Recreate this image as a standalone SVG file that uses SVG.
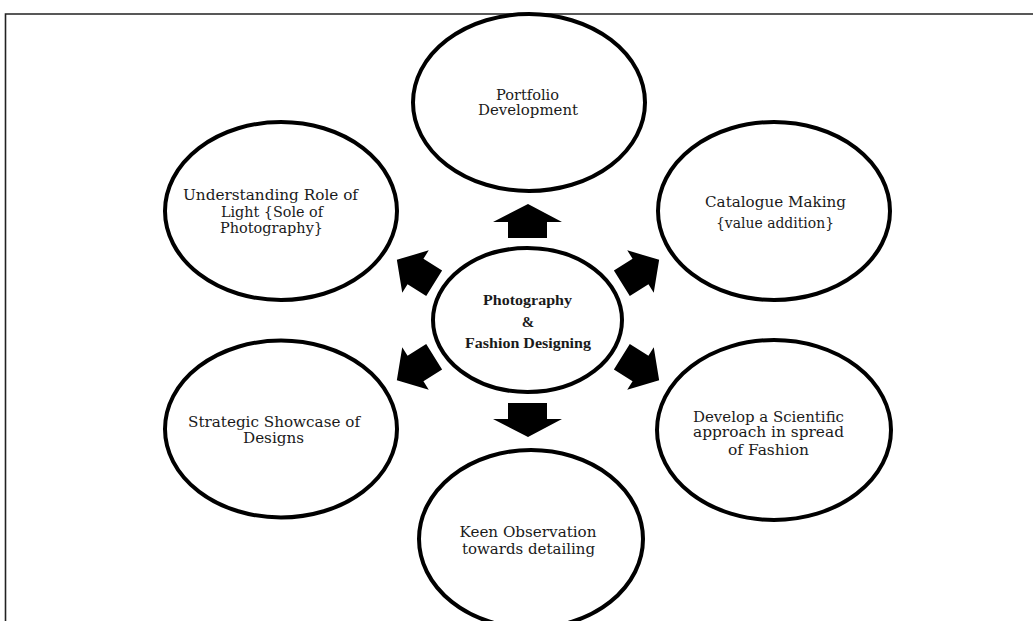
<svg xmlns="http://www.w3.org/2000/svg" width="1033" height="621" viewBox="0 0 1033 621">
<style>
.node ellipse{fill:#fff;stroke:#000;stroke-width:4}
.lbl{font-family:"DejaVu Serif","Liberation Serif",serif;font-size:14px;fill:#1a1a1a;text-anchor:middle}
.ctr{font-family:"Liberation Serif","Times New Roman",serif;font-size:15px;font-weight:bold;fill:#1a1a1a;text-anchor:middle}
.arrow{fill:#000}
</style>
<defs>
<polygon id="diag" points="0,-22 25,0 15,0 15,22 -15,22 -15,0 -25,0"/>
</defs>
<rect width="1033" height="621" fill="#fff"/>
<path d="M5.5,621 V14 H1033" fill="none" stroke="#222" stroke-width="1.6"/>

<g id="connectors" class="arrow">
<polygon points="528,204 562,222 547,222 547,238 508,238 508,222 493,222"/>
<polygon points="528,437 562,419 547,419 547,403 508,403 508,419 493,419"/>
<use href="#diag" transform="translate(415.5,271.5) rotate(-58)"/>
<use href="#diag" transform="translate(640.5,271.5) rotate(58)"/>
<use href="#diag" transform="translate(415.5,368.5) rotate(-122)"/>
<use href="#diag" transform="translate(640.5,368.5) rotate(122)"/>
</g>

<g id="node-portfolio" class="node">
<ellipse cx="529" cy="102.5" rx="116" ry="88.5"/>
<text class="lbl"><tspan x="527.5" y="100" textLength="63" lengthAdjust="spacingAndGlyphs">Portfolio</tspan><tspan x="528" y="115" textLength="100" lengthAdjust="spacingAndGlyphs">Development</tspan></text>
</g>

<g id="node-understanding" class="node">
<ellipse cx="281" cy="211" rx="116" ry="89"/>
<text class="lbl"><tspan x="270.5" y="200" textLength="175" lengthAdjust="spacingAndGlyphs">Understanding Role of</tspan><tspan x="272" y="216.5" textLength="102" lengthAdjust="spacingAndGlyphs">Light {Sole of</tspan><tspan x="271.5" y="232.5" textLength="103" lengthAdjust="spacingAndGlyphs">Photography}</tspan></text>
</g>

<g id="node-catalogue" class="node">
<ellipse cx="774" cy="211" rx="116" ry="89"/>
<text class="lbl"><tspan x="775.5" y="206.5" textLength="141" lengthAdjust="spacingAndGlyphs">Catalogue Making</tspan><tspan x="775" y="227.5" textLength="118" lengthAdjust="spacingAndGlyphs">{value addition}</tspan></text>
</g>

<g id="node-center" class="node">
<ellipse cx="527.5" cy="320" rx="94.5" ry="72"/>
<text class="ctr"><tspan x="527.5" y="305" textLength="89" lengthAdjust="spacingAndGlyphs">Photography</tspan><tspan x="528" y="326.5">&amp;</tspan><tspan x="528" y="348" textLength="126" lengthAdjust="spacingAndGlyphs">Fashion Designing</tspan></text>
</g>

<g id="node-strategic" class="node">
<ellipse cx="281" cy="429" rx="116" ry="88.5"/>
<text class="lbl"><tspan x="274" y="426.5" textLength="172" lengthAdjust="spacingAndGlyphs">Strategic Showcase of</tspan><tspan x="273.5" y="443" textLength="61" lengthAdjust="spacingAndGlyphs">Designs</tspan></text>
</g>

<g id="node-develop" class="node">
<ellipse cx="774" cy="430" rx="117" ry="90"/>
<text class="lbl"><tspan x="768.5" y="421.5" textLength="151" lengthAdjust="spacingAndGlyphs">Develop a Scientific</tspan><tspan x="768.5" y="437" textLength="151" lengthAdjust="spacingAndGlyphs">approach in spread</tspan><tspan x="768.5" y="455" textLength="81" lengthAdjust="spacingAndGlyphs">of Fashion</tspan></text>
</g>

<g id="node-keen" class="node">
<ellipse cx="531" cy="539" rx="112" ry="89"/>
<text class="lbl"><tspan x="528" y="536.5" textLength="137" lengthAdjust="spacingAndGlyphs">Keen Observation</tspan><tspan x="528.5" y="554" textLength="133" lengthAdjust="spacingAndGlyphs">towards detailing</tspan></text>
</g>
</svg>
